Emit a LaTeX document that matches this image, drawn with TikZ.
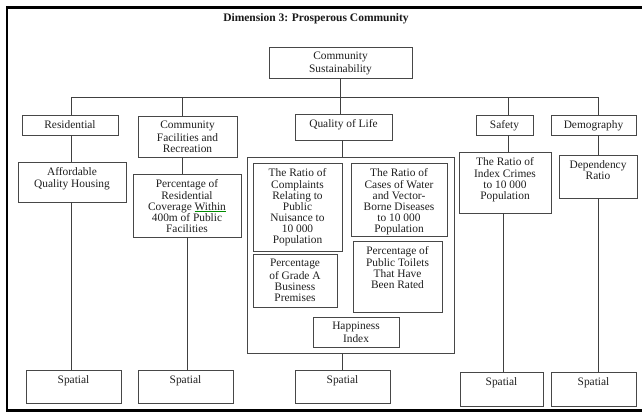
\documentclass[tikz,border=0pt]{standalone}
\usepackage{fontspec}
\setmainfont{Liberation Serif}

% box from (x1,y1) to (x2,y2), text set from the top
\newcommand\tbox[6]{%
  \pgfmathsetmacro\bw{#4-#2}%
  \pgfmathsetmacro\bh{#5-#3}%
  \node[bx] (#1) at ({(#2+#4)/2},{(#3+#5)/2})
    {\parbox[c][\bh pt][t]{\bw pt}{\centering\vspace*{5.2pt}\strut#6}};%
}
% word with a thin green mark underneath
\newcommand\spellmark[1]{%
  \setbox0=\hbox{#1}%
  \rlap{\color{green!55!black}\rule[-1.3pt]{\wd0}{0.5pt}}#1}

\begin{document}
\begin{tikzpicture}[x=1pt,y=-1pt,
  bx/.style={draw=black!72, line width=0.9pt, inner sep=0pt, fill=white, text=black!88},
  link/.style={draw=black!75, line width=0.9pt},
  font=\fontsize{11.4}{11}\selectfont]
\useasboundingbox (0,0) rectangle (642,413);
\clip (0,0) rectangle (642,413);

% outer frame (open to the right)
\draw[line width=2.6pt] (660,7.3) -- (7,7.3) -- (7,410.2) -- (660,410.2);

\node[text=black!90] (title) at (316,19)
  {\fontsize{11.5}{13}\selectfont\bfseries Dimension 3: Prosperous Community};

% top level
\tbox{root}{269}{47}{412}{78}{Community\\Sustainability}

% second level
\tbox{res}{22}{115}{118}{135}{Residential}
\tbox{cfr}{138}{116}{237}{157}{Community\\Facilities and\\Recreation}
\tbox{qol}{295}{114}{392}{140}{Quality of Life}
\tbox{saf}{476}{115}{533}{135}{Safety}
\tbox{dem}{551}{115}{636}{135}{Demography}

% indicators
\tbox{aff}{18}{162}{126}{202}{Affordable\\Quality Housing}
\tbox{pct}{133}{174}{241}{237}{Percentage of\\Residential\\Coverage \spellmark{Within}\\400m of Public\\Facilities}
\tbox{big}{247}{157}{454}{353}{}
\tbox{c1}{253}{163}{342}{251}{The Ratio of\\Complaints\\Relating to\\Public\\Nuisance to\\10 000\\Population}
\tbox{c2}{351}{163}{447}{236}{The Ratio of\\Cases of Water\\and Vector-\\Borne Diseases\\to 10 000\\Population}
\tbox{c3}{253}{254}{337}{307}{Percentage\\of Grade A\\Business\\Premises}
\tbox{c4}{353}{241}{442}{312}{Percentage of\\Public Toilets\\That Have\\Been Rated}
\tbox{hap}{313}{317}{399}{347}{Happiness\\Index}
\tbox{crimes}{459}{152}{551}{213}{The Ratio of\\Index Crimes\\to 10 000\\Population}
\tbox{dep}{559}{155}{637}{198}{Dependency\\Ratio}

% bottom level
\tbox{sp1}{26}{370}{121}{403}{Spatial}
\tbox{sp2}{138}{370}{233}{403}{Spatial}
\tbox{sp3}{295}{370}{390}{403}{Spatial}
\tbox{sp4}{460}{372}{543}{406}{Spatial}
\tbox{sp5}{551}{372}{636}{406}{Spatial}

% branch points on the bus and the lower drop lines
\coordinate (xr) at (71,97);
\coordinate (xc) at (182,97);
\coordinate (xq) at (340,97);
\coordinate (xs) at (508,97);
\coordinate (xd) at (598,97);
\coordinate (xc2) at (187,0);
\coordinate (xq2) at (342,0);
\coordinate (xs2) at (503,0);

\draw[link] (xq |- root.south) -- (xq);
\draw[link] (xr) -- (xd);
\draw[link] (xr) -- (xr |- res.north);
\draw[link] (xc) -- (xc |- cfr.north);
\draw[link] (xq) -- (xq |- qol.north);
\draw[link] (xs) -- (xs |- saf.north);
\draw[link] (xd) -- (xd |- dem.north);

\draw[link] (xr |- res.south) -- (xr |- aff.north);
\draw[link] (xc |- cfr.south) -- (xc |- pct.north);
\draw[link] (xq2 |- qol.south) -- (xq2 |- big.north);
\draw[link] (xs |- saf.south) -- (xs |- crimes.north);
\draw[link] (xd |- dem.south) -- (xd |- dep.north);

\draw[link] (xr |- aff.south) -- (xr |- sp1.north);
\draw[link] (xc2 |- pct.south) -- (xc2 |- sp2.north);
\draw[link] (xq2 |- big.south) -- (xq2 |- sp3.north);
\draw[link] (xs2 |- crimes.south) -- (xs2 |- sp4.north);
\draw[link] (xd |- dep.south) -- (xd |- sp5.north);
\end{tikzpicture}
\end{document}
